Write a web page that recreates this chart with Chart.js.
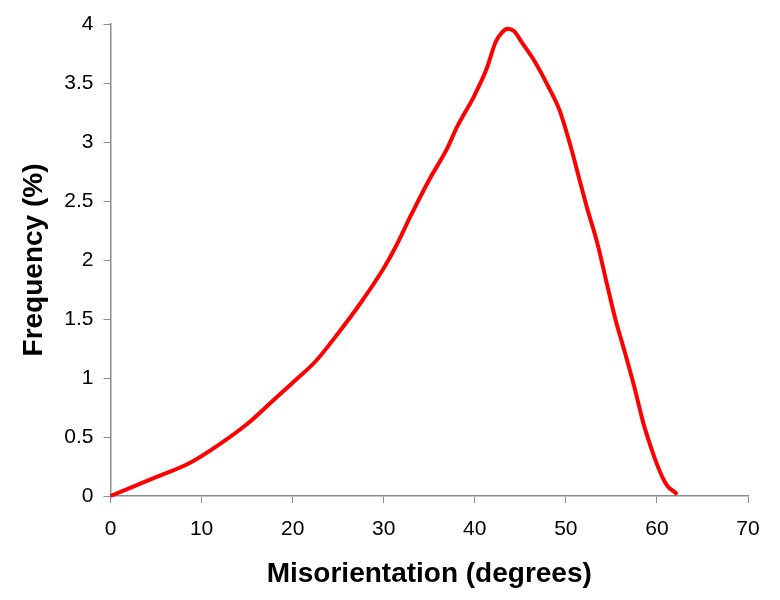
<!DOCTYPE html>
<html>
<head>
<meta charset="utf-8">
<script src="https://cdn.jsdelivr.net/npm/chart.js@4/dist/chart.umd.min.js"></script>
<style>
  html, body { margin: 0; padding: 0; background: #ffffff; }
  #wrap { width: 780px; height: 600px; position: relative; }
</style>
</head>
<body>
<div id="wrap"><canvas id="c" width="780" height="600"></canvas></div>
<script>
// Misorientation angle (degrees)
const misorientation = [0, 2.5, 5, 8.7, 12, 15, 18, 20, 22.5, 25, 27.5, 30, 31.3, 33, 35, 37, 38, 40, 41.3, 42.3, 43, 43.6, 44.3, 45.2, 46.6, 48, 49.3, 50.5, 51.5, 52.3, 53.5, 54.5, 55.5, 56.4, 57.5, 58.5, 59.4, 60, 60.6, 61.2, 62, 62.2];
// Frequency (%)
const frequency = [0, 0.08, 0.16, 0.28, 0.44, 0.61, 0.82, 0.96, 1.14, 1.38, 1.64, 1.93, 2.11, 2.38, 2.68, 2.95, 3.12, 3.40, 3.62, 3.85, 3.93, 3.96, 3.94, 3.84, 3.68, 3.48, 3.27, 2.97, 2.68, 2.45, 2.13, 1.80, 1.48, 1.24, 0.93, 0.62, 0.40, 0.27, 0.16, 0.08, 0.03, 0.01];
const xTicks = [0, 10, 20, 30, 40, 50, 60, 70];
const yTicks = [0, 0.5, 1, 1.5, 2, 2.5, 3, 3.5, 4];

const points = misorientation.map((x, i) => ({ x: x, y: frequency[i] }));
const FONT = "'Liberation Sans', Arial, Helvetica, sans-serif";

new Chart(document.getElementById('c'), {
  type: 'line',
  data: {
    datasets: [{
      data: points,
      borderColor: '#ff0000',
      borderWidth: 4,
      pointRadius: 0,
      fill: false,
      cubicInterpolationMode: 'monotone',
      clip: false
    }]
  },
  options: {
    responsive: false,
    animation: false,
    layout: { padding: { left: 13, right: 32, top: 24, bottom: 5 } },
    plugins: { legend: { display: false }, tooltip: { enabled: false } },
    scales: {
      x: {
        type: 'linear',
        min: 0, max: 70,
        afterBuildTicks: s => { s.ticks = xTicks.map(v => ({ value: v })); },
        afterFit: s => { s.height = 99; },
        grid: { drawOnChartArea: false, drawTicks: true, tickLength: 7, color: '#8c8c8c', lineWidth: 1 },
        border: { display: true, color: '#8c8c8c', width: 1.5 },
        ticks: { color: '#000', font: { family: FONT, size: 21 }, padding: 14, maxRotation: 0, callback: v => String(v) },
        title: { display: true, text: 'Misorientation (degrees)', color: '#000', font: { family: FONT, size: 28, weight: 'bold' }, padding: { top: 4, bottom: 4 } }
      },
      y: {
        type: 'linear',
        min: 0, max: 4,
        afterBuildTicks: s => { s.ticks = yTicks.map(v => ({ value: v })); },
        afterFit: s => { s.width = 97.5; },
        grid: { drawOnChartArea: false, drawTicks: true, tickLength: 7, color: '#8c8c8c', lineWidth: 1 },
        border: { display: true, color: '#8c8c8c', width: 1.5 },
        ticks: { color: '#000', font: { family: FONT, size: 21 }, padding: 10, callback: v => String(v) },
        title: { display: true, text: 'Frequency (%)', color: '#000', font: { family: FONT, size: 28, weight: 'bold' }, padding: { top: 4, bottom: 4 } }
      }
    }
  }
});
</script>
</body>
</html>
